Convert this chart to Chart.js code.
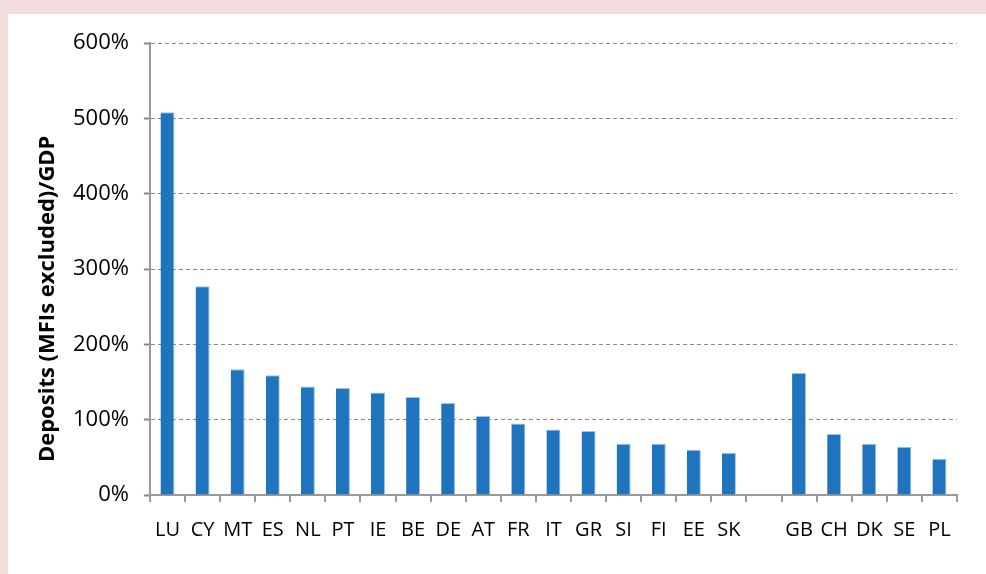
<!DOCTYPE html>
<html>
<head>
<meta charset="utf-8">
<script src="https://cdn.jsdelivr.net/npm/chart.js@4"></script>
<style>
  html, body { margin: 0; padding: 0; background: #f2dedc; }
  #panel {
    position: absolute; left: 8px; top: 14px;
    width: 978px; height: 560px; background: #ffffff;
  }
  #wrap { position: absolute; left: 0; top: 0; width: 962px; height: 545px; }
</style>
</head>
<body>
<div id="panel"><div id="wrap"><canvas id="chart"></canvas></div></div>
<script>
// ── Data ───────────────────────────────────────────────────
const countries = ['LU', 'CY', 'MT', 'ES', 'NL', 'PT', 'IE', 'BE', 'DE', 'AT', 'FR', 'IT',
                   'GR', 'SI', 'FI', 'EE', 'SK', '', 'GB', 'CH', 'DK', 'SE', 'PL'];
const depositsToGdp = [508, 277, 167, 159, 144, 142, 136, 130, 122, 105, 95, 87,
                       85, 68, 68, 60, 56, null, 162, 81, 68, 64, 48];
const yTicks = [0, 100, 200, 300, 400, 500, 600];
const yTitle = 'Deposits (MFIs excluded)/GDP';

const FONT = "'Open Sans', 'Liberation Sans', sans-serif";
Chart.defaults.font.family = FONT;
Chart.defaults.color = '#000';

// Y title sits a bit below the axis centre in the original, so draw it by hand
const yTitlePlugin = {
  id: 'yTitle',
  afterDraw(chart) {
    const { ctx, chartArea } = chart;
    const cy = chartArea.top + (chartArea.bottom - chartArea.top) * 0.566;
    ctx.save();
    ctx.translate(40, cy);
    ctx.rotate(-Math.PI / 2);
    ctx.font = `bold 22px ${FONT}`;
    ctx.fillStyle = '#000';
    ctx.textAlign = 'center';
    ctx.textBaseline = 'middle';
    ctx.fillText(yTitle, 0, 0);
    ctx.restore();
  },
};

new Chart(document.getElementById('chart'), {
  type: 'bar',
  data: {
    labels: countries,
    datasets: [{
      data:            depositsToGdp,
      backgroundColor: '#1f74bd',
      borderColor:     '#9fc3e6',
      borderWidth:     { top: 1, left: 0, right: 1, bottom: 0 },
      barPercentage:   0.4,
      categoryPercentage: 1,
    }],
  },
  options: {
    responsive: true,
    maintainAspectRatio: false,
    animation: false,
    layout: { padding: { top: 29, right: 13, left: 50, bottom: 1 } },
    plugins: { legend: { display: false }, tooltip: { enabled: false } },
    scales: {
      x: {
        grid: {
          offset: true, drawOnChartArea: false, drawTicks: true,
          tickLength: 7, color: '#999', lineWidth: 2,
        },
        border: { color: '#999', width: 2 },
        ticks: { font: { size: 20 }, color: '#000', padding: 16, maxRotation: 0, autoSkip: false },
      },
      y: {
        min: 0, max: 600,
        afterBuildTicks: axis => { axis.ticks = yTicks.map(v => ({ value: v })); },
        grid: {
          color: '#888', lineWidth: 1, tickLength: 6,
          tickColor: '#888', tickWidth: 2,
        },
        border: { color: '#999', width: 2, dash: [4, 3] },
        ticks: { font: { size: 22 }, color: '#000', padding: 15, callback: v => v + '%' },
      },
    },
  },
  plugins: [yTitlePlugin],
});
</script>
</body>
</html>
